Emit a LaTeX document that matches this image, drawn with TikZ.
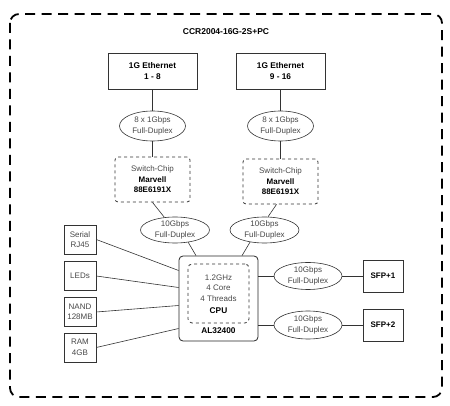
\documentclass[tikz,border=0pt]{standalone}
\usepackage{fontspec}
\setmainfont{Liberation Sans}
\usetikzlibrary{shapes.geometric,positioning}

\definecolor{linec}{gray}{0.2}
\definecolor{txtc}{gray}{0.28}

\begin{document}
\begin{tikzpicture}[
    x=1pt, y=-1pt,
    every node/.style={align=center, inner sep=0pt, font=\fontsize{8}{10.5}\selectfont, text=txtc},
    portbox/.style={draw=linec, semithick, rectangle, minimum width=89pt, minimum height=36pt, font=\bfseries\fontsize{8.3}{10.5}\selectfont, text=black},
    sidebox/.style={draw=linec, semithick, rectangle, minimum width=32pt, minimum height=29pt},
    sfpbox/.style={draw=linec, semithick, rectangle, minimum width=40pt, minimum height=32pt, font=\bfseries\fontsize{8}{10}\selectfont, text=black},
    linkell/.style={draw=linec, semithick, ellipse, minimum width=68pt, minimum height=27pt},
    chipbox/.style={draw=linec, dashed, thick, rounded corners=3pt, minimum width=75pt, minimum height=45pt},
    wire/.style={draw=linec, semithick}
]
\useasboundingbox (0,0) rectangle (450,406);

% outer frame
\draw[line width=1.8pt, dash pattern=on 10pt off 6.5pt, rounded corners=9pt, line cap=butt]
    (10,14) rectangle (442,397);
\node[font=\bfseries\fontsize{8.5}{10}\selectfont, text=black] (title) at (226,32) {CCR2004-16G-2S+PC};

% ethernet ports
\node[portbox] (eth1) at (152.5,71) {1G Ethernet\\1 - 8};
\node[portbox] (eth2) at (280.5,71) {1G Ethernet\\9 - 16};

\node[linkell, minimum width=66pt, minimum height=30pt] (gig1) at (152.5,126) {8 x 1Gbps\\Full-Duplex};
\node[linkell, minimum width=66pt, minimum height=30pt] (gig2) at (280.5,126) {8 x 1Gbps\\Full-Duplex};

% switch chips
\node[chipbox] (sw1) at (152.5,179.5) {Switch-Chip\\{\bfseries\color{black}Marvell}\\{\bfseries\color{black}88E6191X}};
\node[chipbox] (sw2) at (280.5,181.5) {Switch-Chip\\{\bfseries\color{black}Marvell}\\{\bfseries\color{black}88E6191X}};

\node[linkell, minimum width=69pt, minimum height=26pt] (up1) at (175,230) {10Gbps\\Full-Duplex};
\node[linkell, minimum width=69pt, minimum height=26pt] (up2) at (264.5,230) {10Gbps\\Full-Duplex};

% cpu
\node[draw=black!85, thick, rounded corners=4pt, minimum width=79pt, minimum height=85pt] (cpu) at (218.5,298.5) {};
\node[draw=linec, dashed, thick, rounded corners=4pt, minimum width=61pt, minimum height=59pt] (core) at (218.5,293.5) {};
\node (cpuinfo) at (218.5,288) {1.2GHz\\4 Core\\4 Threads};
\node[font=\bfseries\fontsize{8.3}{10}\selectfont, text=black] (cpulbl) at (218.5,311) {CPU};
\node[font=\bfseries\fontsize{8.3}{10}\selectfont, text=black] (socname) at (218.5,331) {AL32400};

% left side
\node[sidebox] (serial) at (80,239.5) {Serial\\RJ45};
\node[sidebox] (leds) at (80,276) {LEDs};
\node[sidebox] (nand) at (80,312) {NAND\\128MB};
\node[sidebox] (ram) at (80,347.5) {RAM\\4GB};

% right side
\node[linkell] (sfplink1) at (308,276) {10Gbps\\Full-Duplex};
\node[linkell, minimum height=28pt] (sfplink2) at (308,325) {10Gbps\\Full-Duplex};
\node[sfpbox] (sfp1) at (383,276) {SFP+1};
\node[sfpbox] (sfp2) at (383,325) {SFP+2};

% connections
\draw[wire] (eth1) -- (gig1);
\draw[wire] (eth2) -- (gig2);
\draw[wire] (gig1) -- (sw1);
\draw[wire] (gig2) -- (sw2);
\draw[wire] (sw1.south) -- (up1.130);
\draw[wire] ([xshift=-4pt]sw2.south) -- (up2.75);
\draw[wire] (up1.-43) -- ([xshift=-22.5pt]cpu.north);
\draw[wire] (up2.-140) -- ([xshift=23.5pt]cpu.north);
\draw[wire] (serial.east) -- ([yshift=28pt]cpu.west);
\draw[wire] (leds.east) -- ([yshift=11pt]cpu.west);
\draw[wire] (nand.east) -- ([yshift=-7pt]cpu.west);
\draw[wire] (ram.east) -- ([yshift=-30pt]cpu.west);
\draw[wire] (cpu.east |- sfplink1.west) -- (sfplink1.west);
\draw[wire] (cpu.east |- sfplink2.west) -- (sfplink2.west);
\draw[wire] (sfplink1) -- (sfp1);
\draw[wire] (sfplink2) -- (sfp2);
\end{tikzpicture}
\end{document}
